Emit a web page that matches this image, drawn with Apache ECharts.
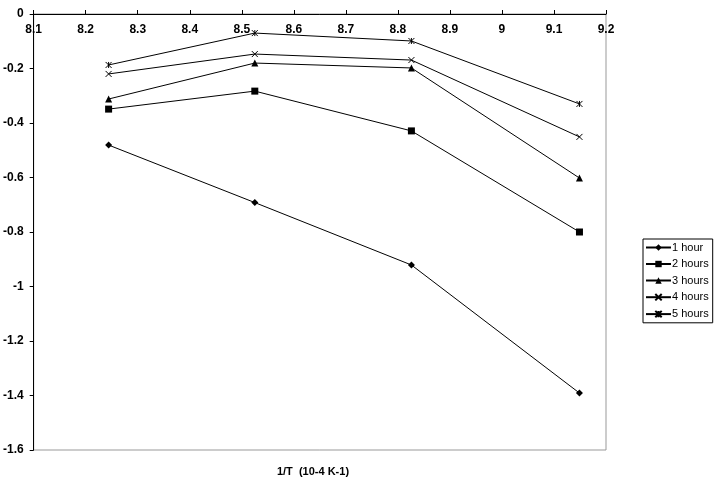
<!DOCTYPE html>
<html>
<head>
<meta charset="utf-8">
<script src="https://cdn.jsdelivr.net/npm/echarts@6/dist/echarts.min.js"></script>
<style>
  html, body { margin: 0; padding: 0; background: #fff; }
  #chart { width: 728px; height: 480px; }
</style>
</head>
<body>
<div id="chart"></div>
<script>
// 1/T values (10^4 K^-1)
const invT = [8.244, 8.525, 8.826, 9.149];
const seriesNames = ['1 hour', '2 hours', '3 hours', '4 hours', '5 hours'];
const hour1 = [-0.481, -0.692, -0.921, -1.391];
const hour2 = [-0.349, -0.283, -0.429, -0.800];
const hour3 = [-0.312, -0.180, -0.198, -0.602];
const hour4 = [-0.220, -0.147, -0.169, -0.451];
const hour5 = [-0.187, -0.070, -0.099, -0.330];

const xMin = 8.1, xMax = 9.2, xStep = 0.1;
const yMin = -1.6, yMax = 0, yStep = 0.2;

const chart = echarts.init(document.getElementById('chart'));

const crossPath = 'path://M0,0L10,10M10,0L0,10';
const starPath = 'path://M0,0L10,10M10,0L0,10M5,0L5,10';

function pairs(vals) {
  return invT.map((x, i) => [x, vals[i]]);
}

function mkSeries(name, vals, symbol, size, stroke) {
  return {
    name: name,
    type: 'line',
    data: pairs(vals),
    symbol: symbol,
    symbolSize: size,
    lineStyle: { color: '#000', width: 1 },
    itemStyle: stroke
      ? { color: 'none', borderColor: '#000', borderWidth: 1 }
      : { color: '#000', borderWidth: 0 },
    emphasis: { disabled: true },
    animation: false
  };
}

const fmt = v => String(+v.toFixed(1));
const labelFont = { fontFamily: 'Liberation Sans', fontWeight: 'bold', fontSize: 12, color: '#000' };

chart.setOption({
  backgroundColor: '#fff',
  grid: {
    left: 26, top: 14, right: 122, bottom: 30,
    show: true, borderColor: '#999', borderWidth: 1, backgroundColor: 'transparent'
  },
  xAxis: {
    type: 'value',
    position: 'top',
    min: xMin, max: xMax, interval: xStep,
    axisLine: { onZero: false, lineStyle: { color: '#000', width: 1 } },
    axisTick: { show: true, inside: false, length: 4, lineStyle: { color: '#000' } },
    axisLabel: Object.assign({ inside: true, margin: 10, formatter: fmt }, labelFont),
    splitLine: { show: false }
  },
  yAxis: {
    type: 'value',
    min: yMin, max: yMax, interval: yStep,
    axisLine: { show: true, onZero: false, lineStyle: { color: '#000', width: 1 } },
    axisTick: { show: true, inside: false, length: 4, lineStyle: { color: '#000' } },
    axisLabel: Object.assign({ margin: 10, formatter: fmt }, labelFont),
    splitLine: { show: false }
  },
  legend: {
    orient: 'vertical',
    left: 643, top: 239,
    width: 69,
    padding: [3, 4, 3, 2],
    borderColor: '#000', borderWidth: 1,
    backgroundColor: '#fff',
    itemWidth: 25, itemHeight: 8, itemGap: 5.5,
    textStyle: { fontFamily: 'Liberation Sans', fontSize: 11, color: '#000', padding: [0, 0, 0, -4] },
    data: seriesNames
  },
  graphic: [{
    type: 'text',
    x: 313, y: 472,
    style: {
      text: '1/T  (10-4 K-1)',
      fontFamily: 'Liberation Sans', fontWeight: 'bold', fontSize: 11, fill: '#000',
      textAlign: 'center', textVerticalAlign: 'middle'
    }
  }],
  series: [
    mkSeries(seriesNames[0], hour1, 'diamond', 7, false),
    mkSeries(seriesNames[1], hour2, 'rect', 7, false),
    mkSeries(seriesNames[2], hour3, 'triangle', 7, false),
    mkSeries(seriesNames[3], hour4, crossPath, 6, true),
    mkSeries(seriesNames[4], hour5, starPath, 6, true)
  ]
});
</script>
</body>
</html>
